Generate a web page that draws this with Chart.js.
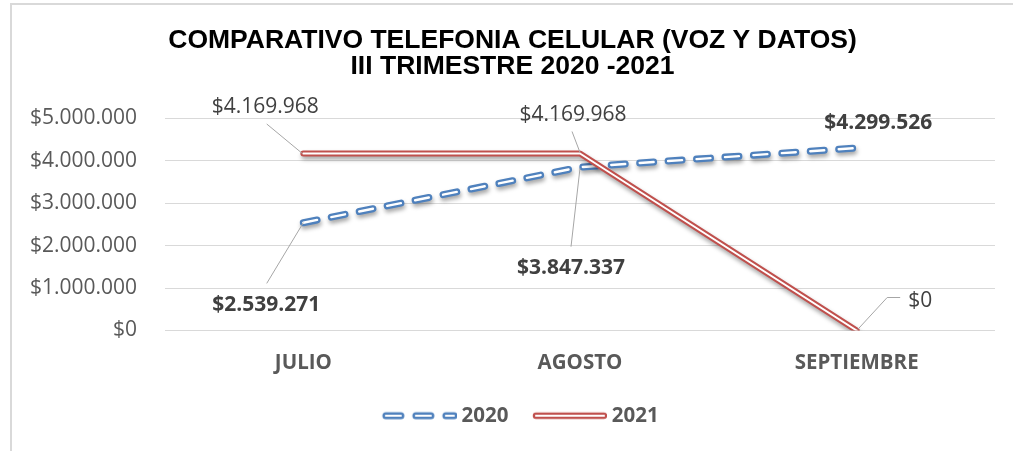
<!DOCTYPE html>
<html><head><meta charset="utf-8">
<script src="https://cdn.jsdelivr.net/npm/chart.js@4.4.0/dist/chart.umd.min.js"></script>
<style>
html,body{margin:0;padding:0;background:#fff;}
#wrap{position:relative;width:1013px;height:451px;overflow:hidden;}
#frame{position:absolute;left:10px;top:3px;width:1100px;height:600px;border-left:2px solid #d9d9d9;border-top:2px solid #d9d9d9;}
canvas{position:absolute;left:0;top:0;}
</style></head><body>
<div id="wrap"><div id="frame"></div><canvas id="c" width="1013" height="451"></canvas></div>
<script>
const categories = ['JULIO', 'AGOSTO', 'SEPTIEMBRE'];
const values2020 = [2539271, 3847337, 4299526];
const values2021 = [4169968, 4169968, 0];
const yTicks = [0, 1000000, 2000000, 3000000, 4000000, 5000000];
const seriesNames = ['2020', '2021'];
const titleLines = ['COMPARATIVO TELEFONIA CELULAR (VOZ Y DATOS)', 'III TRIMESTRE 2020 -2021'];

const BLUE = '#4F81BD';
const RED = '#C0504D';

function fmt(v) {
  return '$' + Math.round(v).toString().replace(/\B(?=(\d{3})+(?!\d))/g, '.');
}

function legendImg(color, dashed, w1, w2) {
  const c = document.createElement('canvas');
  c.width = 80; c.height = 10;
  const g = c.getContext('2d');
  g.lineCap = 'round';
  g.setLineDash(dashed ? [15, 15] : []);
  g.strokeStyle = color; g.lineWidth = w1;
  g.beginPath(); g.moveTo(9, 5); g.lineTo(77, 5); g.stroke();
  g.strokeStyle = '#fff'; g.lineWidth = w2;
  g.beginPath(); g.moveTo(9, 5); g.lineTo(77, 5); g.stroke();
  return c;
}
const img2020 = legendImg(BLUE, true, 7, 2.2);
const img2021 = legendImg(RED, false, 6.5, 2.2);

const labelLayout = [
  {ds: 0, i: 0, dx: -37, dy: 82, bold: true, leader: [[-36.6, 60.7], [0, 0]]},
  {ds: 0, i: 1, dx: -9, dy: 100.5, bold: true, leader: [[-9, 79.5], [0, 1]]},
  {ds: 0, i: 2, dx: 21.5, dy: -25, bold: true, leader: null},
  {ds: 1, i: 0, dx: -38, dy: -46, bold: false, leader: [[-36.6, -29.5], [-1, 0]]},
  {ds: 1, i: 1, dx: -7, dy: -38.5, bold: false, leader: [[-8, -22], [0, -1]]},
  {ds: 1, i: 2, dx: 63.5, dy: -29, bold: false, leader: [[1, -1], [30.5, -33], [43.5, -33]]}
];

const shadowPlugin = {
  id: 'shadow',
  beforeDatasetDraw(chart, args) {
    const ds = chart.data.datasets[args.index];
    const ctx = chart.ctx;
    ctx.save();
    if (!ds.inner) {
      ctx.shadowColor = 'rgba(0,0,0,0.35)';
      ctx.shadowBlur = 4;
      ctx.shadowOffsetX = 1;
      ctx.shadowOffsetY = 3;
    }
  },
  afterDatasetDraw(chart) { chart.ctx.restore(); }
};

const shiftPlugin = {
  id: 'shiftBoxes',
  afterLayout(chart) {
    if (chart.legend) { chart.legend.left += 36; }
    if (chart.titleBlock) { chart.titleBlock.left += 20; }
  }
};

const labelPlugin = {
  id: 'dlabels',
  afterDatasetsDraw(chart) {
    const ctx = chart.ctx;
    ctx.save();
    labelLayout.forEach(l => {
      const pt = chart.getDatasetMeta(l.ds).data[l.i];
      const v = chart.data.datasets[l.ds].data[l.i];
      if (l.leader) {
        ctx.strokeStyle = '#a6a6a6';
        ctx.lineWidth = 1;
        ctx.beginPath();
        l.leader.forEach((p, k) => {
          if (k === 0) ctx.moveTo(pt.x + p[0], pt.y + p[1]);
          else ctx.lineTo(pt.x + p[0], pt.y + p[1]);
        });
        ctx.stroke();
      }
      ctx.font = (l.bold ? 'bold ' : '') + '21px "Open Sans"';
      ctx.fillStyle = '#404040';
      ctx.textAlign = 'center';
      ctx.textBaseline = 'middle';
      ctx.fillText(fmt(v), pt.x + l.dx, pt.y + l.dy);
    });
    ctx.restore();
  }
};

new Chart(document.getElementById('c'), {
  type: 'line',
  data: {
    labels: categories,
    datasets: [
      {label: seriesNames[0], data: values2020, borderColor: BLUE, backgroundColor: BLUE, borderWidth: 7, borderDash: [14, 14.5], borderCapStyle: 'round', borderJoinStyle: 'round', pointRadius: 0, pointStyle: img2020, order: 4, fill: false, tension: 0},
      {label: seriesNames[1], data: values2021, borderColor: RED, backgroundColor: RED, borderWidth: 6, borderCapStyle: 'round', borderJoinStyle: 'round', pointRadius: 0, pointStyle: img2021, order: 2, fill: false, tension: 0},
      {label: '', inner: true, data: values2020, borderColor: '#fff', borderWidth: 2.4, borderDash: [14, 14.5], borderCapStyle: 'round', borderJoinStyle: 'round', pointRadius: 0, order: 3, fill: false, tension: 0},
      {label: '', inner: true, data: values2021, borderColor: '#fff', borderWidth: 2, borderCapStyle: 'round', borderJoinStyle: 'round', pointRadius: 0, order: 1, fill: false, tension: 0}
    ]
  },
  options: {
    responsive: false,
    animation: false,
    events: [],
    layout: {padding: {left: 10, right: 18, top: 5, bottom: 15}},
    plugins: {
      title: {
        display: true, text: titleLines, color: '#000',
        font: {family: '"Liberation Sans", Arial, sans-serif', size: 26.5, weight: 'bold', lineHeight: 0.98},
        padding: {top: 22.5, bottom: 38.8}
      },
      legend: {
        position: 'bottom',
        labels: {
          usePointStyle: true, pointStyleWidth: 69, padding: 24, color: '#595959',
          font: {family: '"Open Sans"', size: 20.5, weight: 'bold'},
          filter: (item) => item.text !== '',
          sort: (a, b) => a.datasetIndex - b.datasetIndex
        }
      },
      tooltip: {enabled: false}
    },
    scales: {
      x: {
        type: 'category', offset: true,
        grid: {display: false, drawTicks: false}, border: {display: false},
        ticks: {padding: 20, color: '#595959', font: {family: '"Open Sans"', size: 20.5, weight: 'bold'}},
        afterFit: (s) => { s.height = 51; }
      },
      y: {
        min: 0, max: 5000000,
        afterBuildTicks: (s) => { s.ticks = yTicks.map(v => ({value: v})); },
        grid: {color: '#d9d9d9', lineWidth: 1, drawTicks: false}, border: {display: false},
        ticks: {padding: 28, color: '#595959', font: {family: '"Open Sans"', size: 21}, callback: (v) => fmt(v)},
        afterFit: (s) => { s.width = 155; }
      }
    }
  },
  plugins: [shadowPlugin, shiftPlugin, labelPlugin]
});
</script>
</body></html>
